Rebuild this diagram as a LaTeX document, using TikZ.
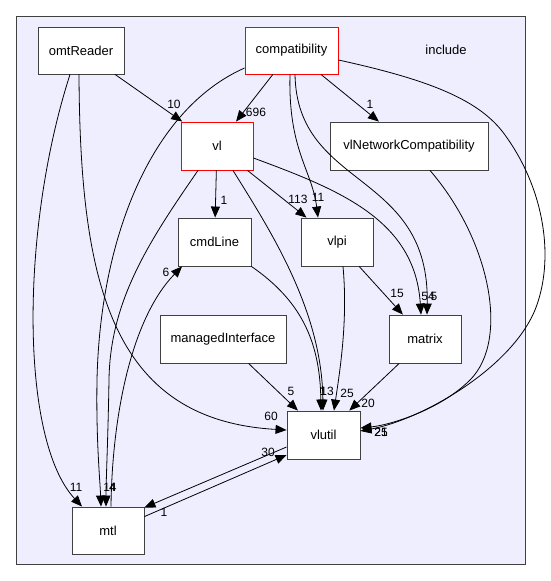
\documentclass[tikz,border=0pt]{standalone}
\usepackage{fontspec}
\setmainfont{Liberation Sans}
\usepackage{tikz}
\usetikzlibrary{arrows.meta,positioning,calc}
\definecolor{dirfill}{HTML}{EEEEFF}
\definecolor{dirline}{HTML}{404040}
\definecolor{dirred}{HTML}{FF0000}
\tikzset{
  dirbox/.style={rectangle,draw=dirline,line width=0.9pt,fill=white,text=black,
    font=\fontsize{13}{15}\selectfont,minimum height=47pt,inner sep=0pt},
  dirboxred/.style={dirbox,draw=dirred},
  clusterbox/.style={draw=dirline,line width=0.9pt,fill=dirfill},
  deparr/.style={-{Triangle[length=11pt,width=9pt]},line width=0.8pt,color=black},
  deplabel/.style={font=\fontsize{12}{14}\selectfont,inner sep=0pt,text=black},
}

\begin{document}
\begin{tikzpicture}[x=1pt,y=-1pt]
  \useasboundingbox (0,0) rectangle (551,581);
  \draw[clusterbox] (16,16) rectangle (525,564);
  \node[font=\fontsize{13}{15}\selectfont] (inclabel) at (446,50) {include};

  \node[dirbox,minimum width=86pt] (omtreader) at (81,50.5) {omtReader};
  \node[dirboxred,minimum width=93pt] (compat) at (291.5,50.5) {compatibility};
  \node[dirboxred,minimum width=72pt,minimum height=48pt] (vl) at (217,146) {vl};
  \node[dirbox,minimum width=158pt,minimum height=48pt] (vlnetcompat) at (409,146) {vlNetworkCompatibility};
  \node[dirbox,minimum width=73pt,minimum height=48pt] (cmdline) at (214.5,242) {cmdLine};
  \node[dirbox,minimum width=72pt,minimum height=48pt] (vlpi) at (337,242) {vlpi};
  \node[dirbox,minimum width=126pt,minimum height=48pt] (managed) at (223,339) {managedInterface};
  \node[dirbox,minimum width=72pt,minimum height=48pt] (matrix) at (425,339) {matrix};
  \node[dirbox,minimum width=73pt,minimum height=48pt] (vlutil) at (323.5,435) {vlutil};
  \node[dirbox,minimum width=72pt] (mtl) at (108,530.5) {mtl};

  % straight dependencies
  \draw[deparr] (omtreader) -- (vl);
  \draw[deparr] (compat) -- (vl);
  \draw[deparr] (compat) -- (vlnetcompat);
  \draw[deparr] (vl) -- (cmdline);
  \draw[deparr] (vl) -- (vlpi);
  \draw[deparr] (vlpi) -- (matrix);
  \draw[deparr] (managed) -- (vlutil);
  \draw[deparr] (matrix) -- (vlutil);
  \draw[deparr] ($(vlutil.west)+(0,12)$) -- ($(mtl.north east)+(0,1)$);
  \draw[deparr] ($(mtl.north east)+(0,10)$) -- ($(vlutil.west)+(0,20)$);

  % curved dependencies
  \draw[deparr] ($(omtreader.south)+(-11,0)$) .. controls (20,230) and (20,440) .. ($(mtl.north)+(-26,0)$);
  \draw[deparr] ($(omtreader.south)+(-2,0)$) .. controls (80,280) and (110,420) .. ($(vlutil.west)+(0,-5)$);
  \draw[deparr] ($(compat.west)+(0,17.5)$) .. controls (150,110) and (100,240) .. (97,380)
    .. controls (96,440) and (100,480) .. ($(mtl.north)+(-7,0)$);
  \draw[deparr] ($(vl.south)+(-19,0)$) .. controls (150,240) and (110,300) .. (109,380)
    .. controls (108,440) and (106,480) .. ($(mtl.north)+(-2,0)$);
  \draw[deparr] ($(mtl.north)+(3,0)$) .. controls (112,420) and (130,320) .. ($(cmdline.south)+(-32.5,0)$);
  \draw[deparr] ($(vl.south)+(16,0)$) .. controls (270,230) and (322,310) .. ($(vlutil.north)+(-0.5,0)$);
  \draw[deparr] (cmdline.south east) .. controls (300,300) and (320,340) .. ($(vlutil.north)+(-2.5,0)$);
  \draw[deparr] ($(vlpi.south)+(6,0)$) .. controls (348,320) and (340,370) .. ($(vlutil.north)+(10.5,0)$);
  \draw[deparr] ($(vl.east)+(0,12)$) .. controls (340,190) and (415,220) .. ($(matrix.north)+(-4,0)$);
  \draw[deparr] ($(compat.south)+(3.5,0)$) .. controls (297,190) and (430,170) .. ($(matrix.north)+(2,0)$);
  \draw[deparr] ($(compat.south)+(-1.5,0)$) .. controls (288,150) and (312,170) .. ($(vlpi.north)+(-19,0)$);
  \draw[deparr] ($(vlnetcompat.south)+(21,0)$) .. controls (490,240) and (510,340) .. (470,380)
    .. controls (440,410) and (390,425) .. ($(vlutil.east)+(0,-7)$);
  \draw[deparr] ($(compat.east)+(0,9.5)$) .. controls (430,80) and (480,100) .. (505,135)
    .. controls (545,190) and (555,260) .. (535,310)
    .. controls (510,370) and (420,420) .. ($(vlutil.east)+(0,-4)$);

  % edge counts
  \node[deplabel] (l-omt-vl) at (174,104) {10};
  \node[deplabel] (l-compat-vl) at (256,112) {696};
  \node[deplabel] (l-compat-vlnet) at (370,104) {1};
  \node[deplabel] (l-omt-mtl) at (76,487) {11};
  \node[deplabel] (l-compat-mtl) at (110,487) {14};
  \node[deplabel] (l-vl-mtl) at (112.5,487) {4};
  \node[deplabel] (l-vl-cmd) at (224,200) {1};
  \node[deplabel] (l-mtl-cmd) at (166,272) {6};
  \node[deplabel] (l-vl-vlpi) at (298,199) {113};
  \node[deplabel] (l-compat-vlpi) at (318,197) {11};
  \node[deplabel] (l-vlpi-matrix) at (397,293) {15};
  \node[deplabel] (l-vl-matrix) at (428,296) {54};
  \node[deplabel] (l-compat-matrix) at (434,296) {5};
  \node[deplabel] (l-managed-vlutil) at (291,391) {5};
  \node[deplabel] (l-vl-vlutil) at (327,391) {13};
  \node[deplabel] (l-cmd-vlutil) at (323,391) {1};
  \node[deplabel] (l-vlpi-vlutil) at (347,393) {25};
  \node[deplabel] (l-matrix-vlutil) at (368,403) {20};
  \node[deplabel] (l-omt-vlutil) at (271,416) {60};
  \node[deplabel] (l-mtl-vlutil) at (268,452) {30};
  \node[deplabel] (l-vlutil-mtl) at (164,512) {1};
  \node[deplabel] (l-compat-vlutil) at (381,432) {21};
  \node[deplabel] (l-vlnet-vlutil) at (381,432) {25};
\end{tikzpicture}
\end{document}
